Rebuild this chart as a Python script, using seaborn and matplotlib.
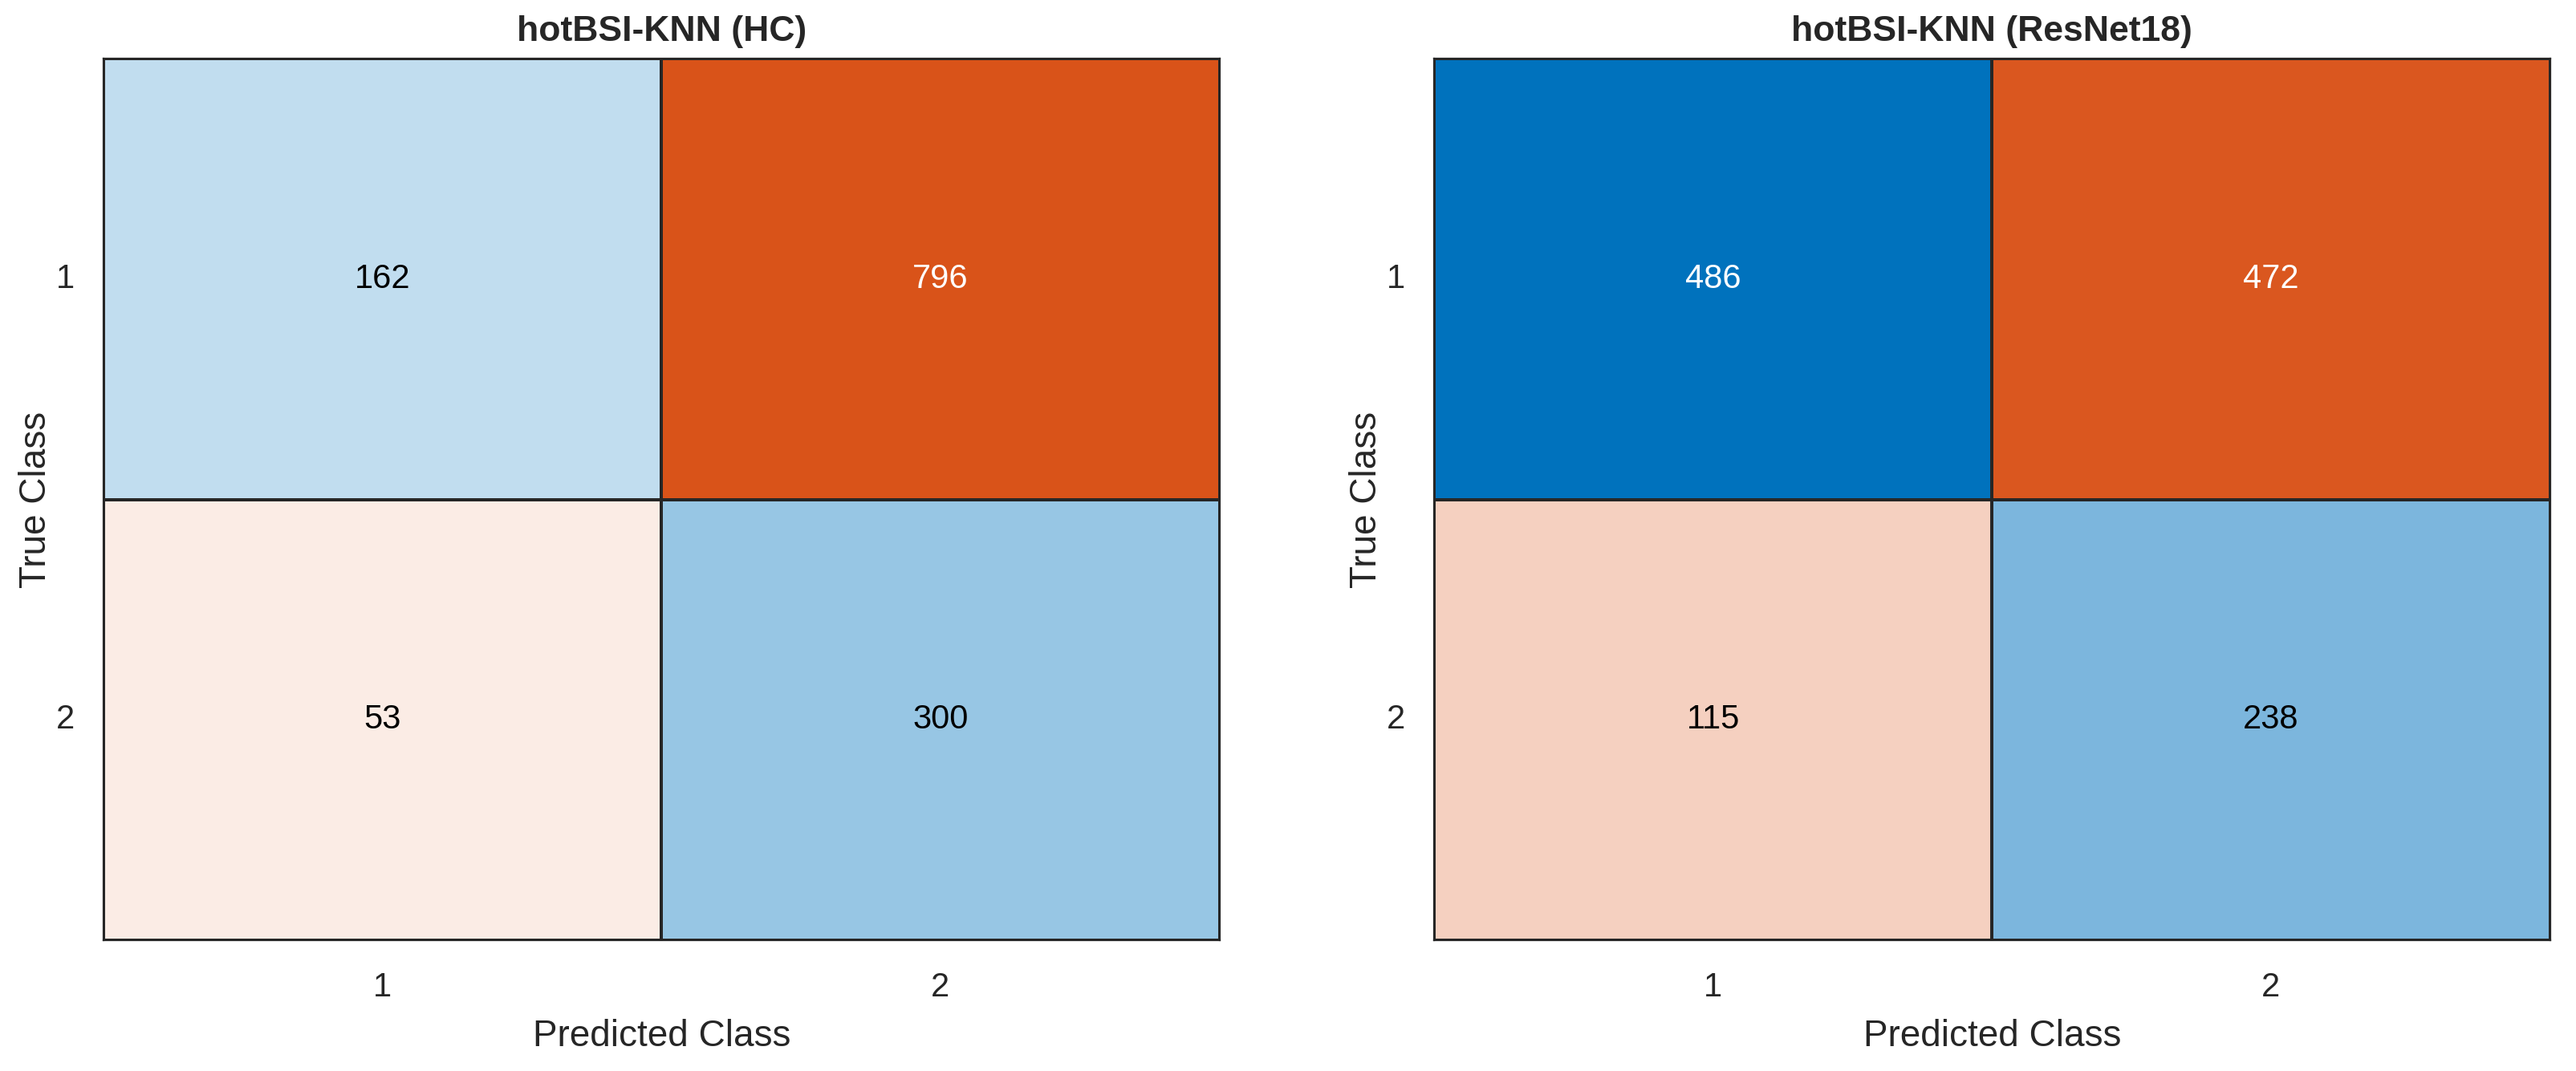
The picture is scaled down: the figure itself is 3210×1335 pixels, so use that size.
import numpy as np
import pandas as pd
import matplotlib
matplotlib.use('Agg')
import matplotlib.pyplot as plt
from matplotlib.colors import LinearSegmentedColormap, to_rgb
import seaborn as sns

classes = ['1', '2']
titles = ['hotBSI-KNN (HC)', 'hotBSI-KNN (ResNet18)']
cm_hc = [[162, 796],
         [53, 300]]
cm_resnet = [[486, 472],
             [115, 238]]

sns.set_style('white')
plt.rcParams['font.family'] = ['Liberation Sans', 'DejaVu Sans']


def matlab_cmap(name, full):
    # light start a few % towards the full colour, as in confusionchart
    full = np.array(to_rgb(full))
    lo = 0.95 * np.ones(3) + 0.05 * full
    return LinearSegmentedColormap.from_list(name, [lo, full])


blue_cmap = matlab_cmap('mblue', '#0072BD')
orange_cmap = matlab_cmap('morange', '#D95319')

fig = plt.figure(figsize=(16.05, 6.675), dpi=200)
ax1 = fig.add_axes([0.0402, 0.122, 0.4332, 0.823])
ax2 = fig.add_axes([0.5567, 0.122, 0.4332, 0.823])

for ax, cm, title in zip([ax1, ax2], [cm_hc, cm_resnet], titles):
    df = pd.DataFrame(cm, index=classes, columns=classes)
    vmax = df.values.max()
    diag = np.eye(len(classes), dtype=bool)
    sns.heatmap(df, mask=~diag, cmap=blue_cmap, vmin=0, vmax=vmax, annot=True, fmt='d',
                cbar=False, linewidths=0.8, linecolor='#262626', ax=ax,
                annot_kws={'fontsize': 15})
    sns.heatmap(df, mask=diag, cmap=orange_cmap, vmin=0, vmax=vmax, annot=True, fmt='d',
                cbar=False, linewidths=0.8, linecolor='#262626', ax=ax,
                annot_kws={'fontsize': 15})
    # dark text in MATLAB is plain black
    for t in ax.texts:
        if t.get_color() != 'w' and t.get_color() != 'white':
            t.set_color('black')
    for s in ax.spines.values():
        s.set_visible(True)
        s.set_color('#262626')
        s.set_linewidth(0.8)
    ax.set_title(title, fontsize=16, fontweight='bold', pad=8)
    ax.set_xlabel('Predicted Class', fontsize=16.5, color='#262626', labelpad=7)
    ax.set_ylabel('True Class', fontsize=16.5, color='#262626', labelpad=1)
    ax.tick_params(axis='both', length=0, labelsize=15, colors='#262626')
    ax.tick_params(axis='x', pad=14)
    ax.tick_params(axis='y', pad=13)
    ax.set_yticklabels(classes, rotation=0)
    ax.set_xticklabels(classes, rotation=0)

fig.savefig('out.png', dpi=200)
